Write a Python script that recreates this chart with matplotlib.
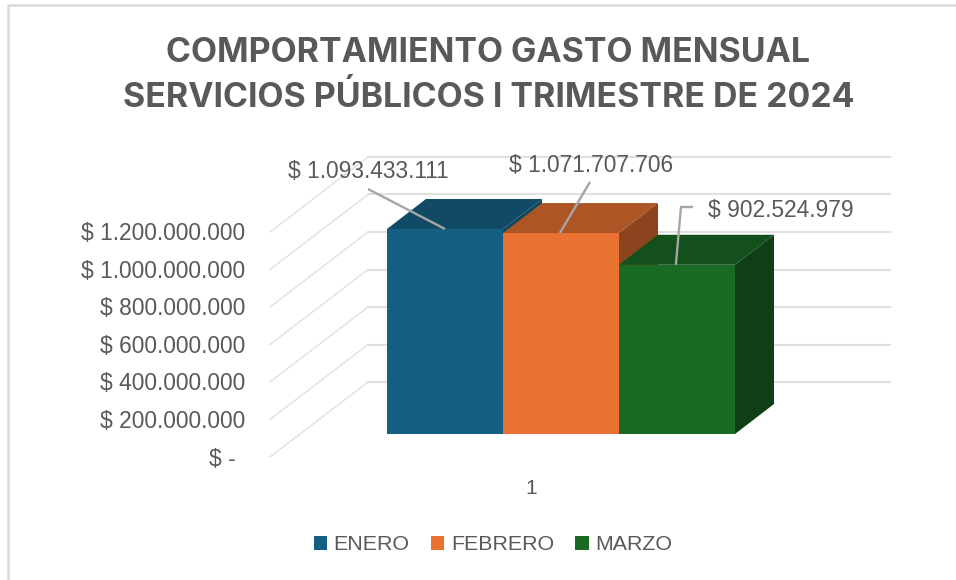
import matplotlib
matplotlib.use("Agg")
import matplotlib.pyplot as plt
from matplotlib.patches import Polygon

# --- data ---
months = ["ENERO", "FEBRERO", "MARZO"]
values = [1093433111, 1071707706, 902524979]
value_labels = ["$ 1.093.433.111", "$ 1.071.707.706", "$ 902.524.979"]
axis_values = [0, 200000000, 400000000, 600000000, 800000000, 1000000000, 1200000000]
axis_labels = ["$ -", "$ 200.000.000", "$ 400.000.000", "$ 600.000.000",
               "$ 800.000.000", "$ 1.000.000.000", "$ 1.200.000.000"]
category_label = "1"
title = "COMPORTAMIENTO GASTO MENSUAL\nSERVICIOS PÚBLICOS I TRIMESTRE DE 2024"

# --- style ---
W, H = 956, 580
front_cols = ["#156082", "#E97132", "#196B24"]
top_cols = ["#104A64", "#AE5526", "#13501B"]
side_cols = ["#0F4760", "#8B441E", "#0F3F16"]
GRID = "#E0E0E0"
TEXT = "#595959"
LEADER = "#A6A6A6"
PX_PER_VALUE = 37.5 / 200000000
BASE_PX, CENTER_PX, BAR_PX = 434, 445, 116

plt.rcParams["font.family"] = ["Liberation Sans", "DejaVu Sans"]
fig = plt.figure(figsize=(W / 100, H / 100), dpi=100, facecolor="white")
ax = fig.add_axes([0, 0, 1, 1])
ax.set_xlim(-CENTER_PX / BAR_PX, (W - CENTER_PX) / BAR_PX)
ax.set_ylim((BASE_PX - H) / PX_PER_VALUE, BASE_PX / PX_PER_VALUE)
ax.axis("off")

dx = lambda px: px / BAR_PX
dy = lambda px: px / PX_PER_VALUE


def to_x(px):
    return (px - CENTER_PX) / BAR_PX


def to_y(px):
    return (BASE_PX - px) / PX_PER_VALUE


def fpt(px_x, px_y):
    return px_x / W, 1 - px_y / H


# chart border (left and top only)
fig.add_artist(plt.Line2D([8 / W, 8 / W, 1], [0, 1 - 5 / H, 1 - 5 / H],
                          color="#D9D9D9", lw=1.8, transform=fig.transFigure))

# wall/floor gridlines: front-left, back-left, back-right
wall_front_x, wall_back_x, wall_right_x = to_x(270), to_x(368), to_x(890)
for v, lab in zip(axis_values, axis_labels):
    y_front = v - dy(23)
    y_back = y_front + dy(75)
    ax.plot([wall_front_x, wall_back_x], [y_front, y_back], color=GRID, lw=1.0, zorder=1)
    ax.plot([wall_back_x, wall_right_x], [y_back, y_back], color=GRID, lw=1.5, zorder=1)
    ax.text(to_x(245) if v else to_x(236), y_front - dy(2), lab,
            ha="right", va="center", fontsize=16.4, color=TEXT)

# 3-D bars
depth_x, depth_y = dx(39), dy(30)
for i, (v, name) in enumerate(zip(values, months)):
    left, right = i - 0.5, i + 0.5
    ax.bar(i, v, width=1.0, color=front_cols[i], label=name, zorder=3 + i)
    ax.add_patch(Polygon([(left, v), (right, v), (right + depth_x, v + depth_y),
                          (left + depth_x, v + depth_y)], color=top_cols[i], lw=0, zorder=3 + i))
    ax.add_patch(Polygon([(right, 0), (right + depth_x, depth_y), (right + depth_x, v + depth_y),
                          (right, v)], color=side_cols[i], lw=0, zorder=3 + i))

# data labels with leader lines
label_pos = [(288, 171.5), (509, 165.5), (708, 210.5)]
leader_ends = [[(368, 189)], [(590, 182)], [(681, 207), (693, 207)]]
anchors = [0.0, 0.99, 1.99]
for i, v in enumerate(values):
    xs = [to_x(x) for x, _ in leader_ends[i]]
    ys = [to_y(y) for _, y in leader_ends[i]]
    ax.plot([anchors[i]] + xs, [v] + ys, color=LEADER, lw=1.7, zorder=10, solid_capstyle="butt")
    px, py = label_pos[i]
    ax.text(to_x(px), to_y(py), value_labels[i], ha="left", va="center",
            fontsize=16.4, color=TEXT, zorder=11)

# category label
ax.text(to_x(531), to_y(488), category_label, ha="center", va="center", fontsize=15, color=TEXT)

# title
ax.text(to_x(488.5), to_y(75.5), title, ha="center", va="center", fontsize=24.4, fontweight="bold",
        family=["Inter", "DejaVu Sans"], color=TEXT, linespacing=1.47)

# legend
leg = ax.legend(loc="center", bbox_to_anchor=fpt(493, 545), bbox_transform=fig.transFigure,
                ncol=3, frameon=False, fontsize=15.4, labelcolor=TEXT,
                handlelength=0.62, handleheight=0.62, handletextpad=0.3, columnspacing=1.0,
                borderpad=0, borderaxespad=0)

fig.savefig("out.png", dpi=100, facecolor="white")
